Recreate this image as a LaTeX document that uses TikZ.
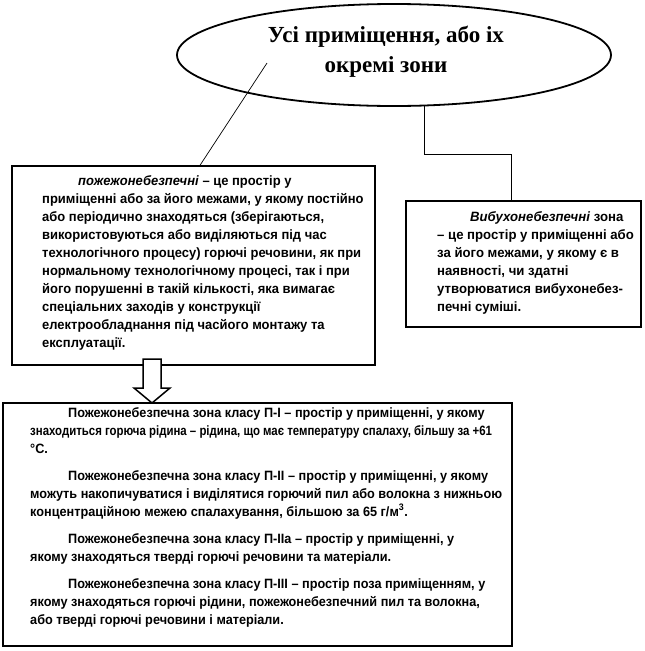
\documentclass[tikz,border=0pt]{standalone}
\usepackage{graphicx}
\usepackage{fontspec}
\setmainfont{Liberation Serif}
\newfontfamily\boxfont[FakeStretch=0.96]{Liberation Sans}
\newfontfamily\boxfontwide[FakeStretch=0.975]{Liberation Sans}
\newfontfamily\boxfontlow[FakeStretch=0.94]{Liberation Sans}
\usetikzlibrary{shapes.geometric}
\begin{document}
\begin{tikzpicture}[x=1pt,y=-1pt,
  box/.style={draw=black, line width=1.4pt, fill=white, inner sep=0pt},
  txt/.style={anchor=north west, inner sep=0pt, align=left, font=\boxfont\bfseries\fontsize{13.5}{18}\selectfont},
  txtwide/.style={txt, font=\boxfontwide\bfseries\fontsize{13.5}{18}\selectfont},
  txtlow/.style={txt, font=\boxfontlow\bfseries\fontsize{13.5}{18}\selectfont},
  link/.style={draw=black, line width=0.7pt},
  blockarrow/.style={draw=black, line width=1.5pt, fill=white}]
\useasboundingbox (0,0) rectangle (645,651);
% ellipse
\node[draw, ellipse, line width=1.8pt, minimum width=434pt, minimum height=102pt, inner sep=0pt] (ell) at (394,55) {};
\node[align=center, inner sep=0pt, font=\bfseries\fontsize{23}{30}\selectfont] (title) at (386,52) {Усі приміщення, або іх\\окремі зони};
% left box
\node[box, minimum width=363pt, minimum height=199pt] (L) at (193.5,265.5) {};
\node[txt] (Lt) at (42,175) {\hspace*{36pt}\textit{пожежонебезпечні} – це простір у\\
приміщенні або за його межами, у якому постійно\\
або періодично знаходяться (зберігаються,\\
використовуються або виділяються під час\\
технологічного процесу) горючі речовини, як при\\
нормальному технологічному процесі, так і при\\
його порушенні в такій кількості, яка вимагає\\
спеціальних заходів у конструкції\\
електрообладнання під часйого монтажу та\\
експлуатації.};
% right box
\node[box, minimum width=235pt, minimum height=126pt] (R) at (523.5,264) {};
\node[txtwide] (Rt) at (437,211) {\hspace*{33pt}\textit{Вибухонебезпечні} зона\\
– це простір у приміщенні або\\
за його межами, у якому є в\\
наявності, чи здатні\\
утворюватися вибухонебез-\\
печні суміші.};
% bottom box
\node[box, minimum width=509pt, minimum height=243pt] (B) at (257.5,524.5) {};
\node[txtlow] (Bt) at (30,407) {\hspace*{38pt}Пожежонебезпечна зона класу П-І – простір у приміщенні, у якому\\
\scalebox{0.9}[1]{знаходиться горюча рідина – рідина, що має температуру спалаху, більшу за +61}\\
°С.\\[9pt]
\hspace*{38pt}Пожежонебезпечна зона класу П-ІІ – простір у приміщенні, у якому\\
можуть накопичуватися і виділятися горючий пил або волокна з нижньою\\
концентраційною межею спалахування, більшою за 65 г/м\textsuperscript{3}.\\[9pt]
\hspace*{38pt}Пожежонебезпечна зона класу П-ІІа – простір у приміщенні, у\\
якому знаходяться тверді горючі речовини та матеріали.\\[9pt]
\hspace*{38pt}Пожежонебезпечна зона класу П-ІІІ – простір поза приміщенням, у\\
якому знаходяться горючі рідини, пожежонебезпечний пил та волокна,\\
або тверді горючі речовини і матеріали.};
% connectors
\coordinate (c1) at (267,63);
\draw[link] (c1) -- ([xshift=6.5pt]L.north);
\coordinate (r0) at (424,105.5);
\draw[link] (r0) -- (424,154) -- (511,154) -- ([xshift=-12.5pt]R.north);
% block arrow
\draw[blockarrow] (143,359) -- (161,359) -- (161,388) -- (170,388) -- (152,403) -- (134,388) -- (143,388) -- cycle;
\end{tikzpicture}
\end{document}
